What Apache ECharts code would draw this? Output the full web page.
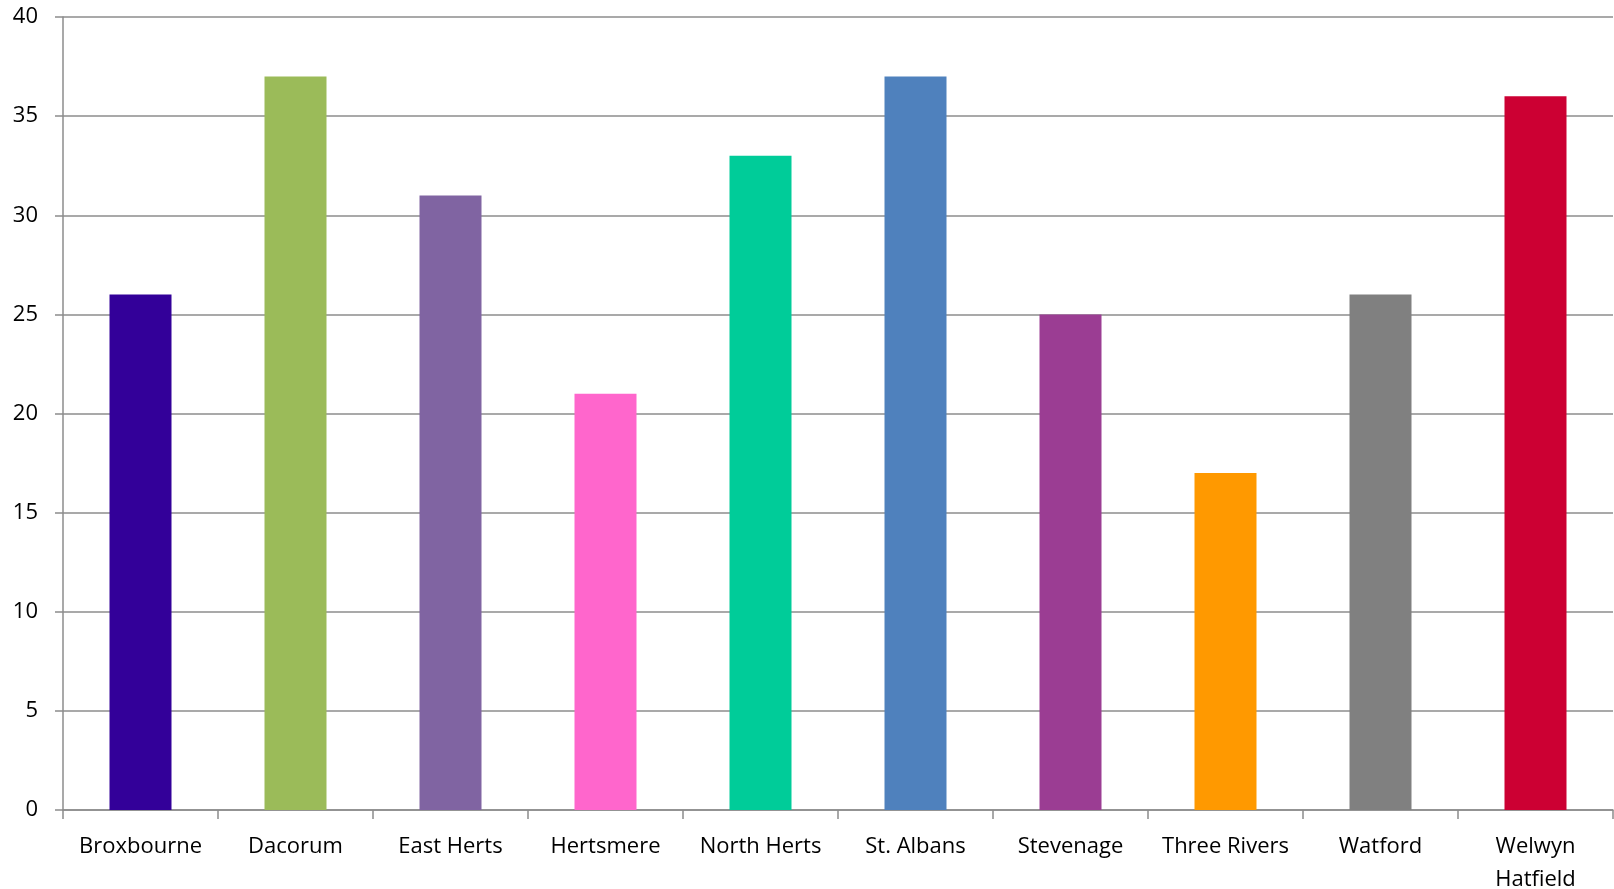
<!DOCTYPE html>
<html>
<head>
<meta charset="utf-8">
<script src="https://cdn.jsdelivr.net/npm/echarts@6/dist/echarts.min.js"></script>
<style>
html,body{margin:0;padding:0;background:#fff;overflow:hidden;}
#chart{width:1614px;height:889px;}
</style>
</head>
<body>
<div id="chart"></div>
<script>
const categories = ['Broxbourne','Dacorum','East Herts','Hertsmere','North Herts','St. Albans','Stevenage','Three Rivers','Watford','Welwyn\nHatfield'];
const values = [26, 37, 31, 21, 33, 37, 25, 17, 26, 36];
const barColors = ['#330099','#9BBB59','#8064A2','#FF66CC','#00CC99','#4F81BD','#9B3D93','#FF9900','#808080','#CC0033'];
const yTicks = [0, 5, 10, 15, 20, 25, 30, 35, 40];

const chart = echarts.init(document.getElementById('chart'));
const lineColor = '#8c8c8c';
chart.setOption({
  animation: false,
  backgroundColor: '#ffffff',
  grid: { left: 63, right: 1, top: 17, bottom: 79, containLabel: false, outerBoundsMode: 'none' },
  xAxis: {
    type: 'category',
    data: categories,
    axisLine: { show: true, lineStyle: { color: lineColor, width: 1.5 } },
    axisTick: { show: true, length: 9, lineStyle: { color: lineColor, width: 1.5 } },
    axisLabel: {
      interval: 0, margin: 20, color: '#000000',
      fontFamily: 'Open Sans', fontSize: 22, lineHeight: 33
    }
  },
  yAxis: {
    type: 'value',
    min: yTicks[0], max: yTicks[yTicks.length - 1], interval: 5,
    axisLine: { show: true, lineStyle: { color: lineColor, width: 1.5 } },
    axisTick: { show: true, length: 8, lineStyle: { color: lineColor, width: 1.5 } },
    splitLine: { show: true, lineStyle: { color: lineColor, width: 1.5 } },
    axisLabel: { margin: 25, color: '#000000', fontFamily: 'Open Sans', fontSize: 22 }
  },
  series: [{
    type: 'bar',
    barCategoryGap: '60%',
    data: values.map((v, i) => ({ value: v, itemStyle: { color: barColors[i] } }))
  }]
});
</script>
</body>
</html>
